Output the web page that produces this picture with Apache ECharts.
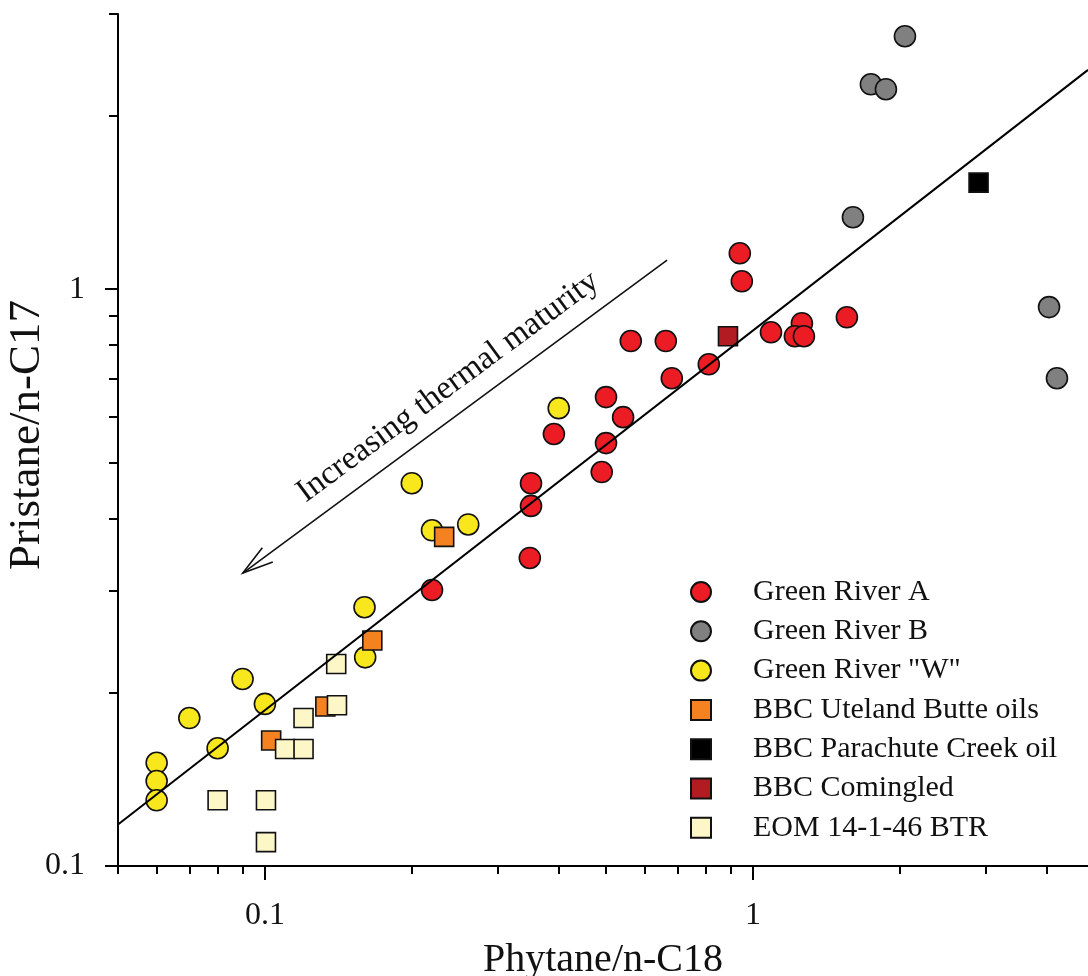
<!DOCTYPE html>
<html><head><meta charset="utf-8">
<script src="https://cdn.jsdelivr.net/npm/echarts@6/dist/echarts.min.js"></script>
<style>html,body{margin:0;padding:0;background:#fff}#c{width:1088px;height:976px}</style>
</head><body><div id="c"></div>
<script>
// ---- data (Phytane/n-C18, Pristane/n-C17) ----
const greenRiverA = [[0.94,1.154],[0.949,1.032],[0.562,0.813],[0.663,0.813],[0.682,0.701],[0.812,0.741],[1.089,0.842],[1.26,0.873],[1.219,0.829],[1.272,0.829],[1.558,0.894],[0.50,0.650],[0.542,0.600],[0.50,0.541],[0.391,0.561],[0.49,0.482],[0.351,0.461],[0.351,0.421],[0.349,0.342],[0.22,0.301]];
const greenRiverB = [[2.049,2.745],[1.745,2.266],[1.873,2.222],[1.603,1.333],[4.044,0.931],[4.198,0.701]];
const greenRiverW = [[0.40,0.622],[0.20,0.461],[0.22,0.382],[0.261,0.391],[0.16,0.281],[0.1605,0.23],[0.090,0.211],[0.070,0.1805],[0.10,0.191],[0.080,0.160],[0.060,0.151],[0.060,0.1404],[0.060,0.130]];
const utelandButte = [[0.233,0.372],[0.166,0.246],[0.133,0.189],[0.103,0.165]];
const parachuteCreek = [[2.90,1.53]];
const comingled = [[0.889,0.829]];
const eomBTR = [[0.140,0.224],[0.1405,0.190],[0.120,0.1805],[0.110,0.1595],[0.120,0.1595],[0.080,0.130],[0.1005,0.130],[0.1005,0.110]];
const fitLine = [[0.05,0.118],[4.86,2.40]];
const arrowFrom = [0.667,1.123];
const arrowTo = [0.0901,0.322];
const arrowText = 'Increasing thermal maturity';
const xMajorTicks = [0.1,1];
const xMinorTicks = [0.05,0.06,0.07,0.08,0.09,0.2,0.3,0.4,0.5,0.6,0.7,0.8,0.9,2,3,4];
const yMajorTicks = [0.1,1];
const yMinorTicks = [0.2,0.3,0.4,0.5,0.6,0.7,0.8,0.9,2,3];
const xName = 'Phytane/n-C18';
const yName = 'Pristane/n-C17';

const FONT = "'Liberation Serif','Times New Roman',serif";
const chart = echarts.init(document.getElementById('c'));
const lineStyle = {color:'#000', width:2};
function sc(name, data, symbol, color, size){
  return {type:'scatter', name, data, symbol, symbolSize:size, xAxisIndex:0, yAxisIndex:0,
    itemStyle:{color, borderColor:'#111', borderWidth:1.6, opacity:1}, z:3};
}
const option = {
  animation:false,
  backgroundColor:'#fff',
  grid:{left:118, right:0, top:14, bottom:110, containLabel:false, outerBoundsMode:'none'},
  xAxis:[
    {type:'log', logBase:10, min:0.05, max:4.86, position:'bottom',
     name:xName, nameLocation:'middle', nameGap:74, nameMoveOverlap:false,
     nameTextStyle:{fontFamily:FONT, fontSize:40, color:'#111'},
     axisLine:{lineStyle}, splitLine:{show:false},
     axisTick:{customValues:xMajorTicks, length:14, lineStyle},
     axisLabel:{customValues:xMajorTicks, margin:34, fontFamily:FONT, fontSize:32, color:'#111'}},
    {type:'log', logBase:10, min:0.05, max:4.86, position:'bottom',
     axisLine:{show:false}, splitLine:{show:false},
     axisTick:{customValues:xMinorTicks, length:8, lineStyle},
     axisLabel:{show:false}}
  ],
  yAxis:[
    {type:'log', logBase:10, min:0.1, max:3, position:'left',
     name:yName, nameLocation:'middle', nameGap:68, nameMoveOverlap:false,
     nameTextStyle:{fontFamily:FONT, fontSize:45, color:'#111', padding:[0,0,0,10]},
     axisLine:{lineStyle}, splitLine:{show:false},
     axisTick:{customValues:yMajorTicks, length:13, lineStyle},
     axisLabel:{customValues:yMajorTicks, margin:33, fontFamily:FONT, fontSize:32, color:'#111'}},
    {type:'log', logBase:10, min:0.1, max:3, position:'left',
     axisLine:{show:false}, splitLine:{show:false},
     axisTick:{customValues:yMinorTicks, length:9, lineStyle},
     axisLabel:{show:false}}
  ],
  legend:{
    orient:'vertical', left:685, top:572, itemWidth:20, itemHeight:20, itemGap:9.3,
    data:['Green River A','Green River B','Green River "W"','BBC Uteland Butte oils','BBC Parachute Creek oil','BBC Comingled','EOM 14-1-46 BTR'],
    textStyle:{fontFamily:FONT, fontSize:30, color:'#111', padding:[0,0,0,37]},
    selectedMode:false
  },
  series:[
    sc('Green River A', greenRiverA, 'circle', '#ec1c24', 21),
    sc('Green River B', greenRiverB, 'circle', '#808080', 21),
    sc('Green River "W"', greenRiverW, 'circle', '#f8e71c', 21),
    sc('BBC Uteland Butte oils', utelandButte, 'rect', '#f58220', 19),
    sc('BBC Parachute Creek oil', parachuteCreek, 'rect', '#000000', 19),
    sc('BBC Comingled', comingled, 'rect', '#b31b23', 19),
    sc('EOM 14-1-46 BTR', eomBTR, 'rect', '#fdf7c8', 19),
    {type:'line', name:'fit', data:fitLine, xAxisIndex:0, yAxisIndex:0, symbol:'none',
     lineStyle:{color:'#000', width:2}, z:5, silent:true}
  ]
};
chart.setOption(option);

// annotation arrow (positioned from data coordinates)
const p0 = chart.convertToPixel({xAxisIndex:0, yAxisIndex:0}, arrowFrom);
const p1 = chart.convertToPixel({xAxisIndex:0, yAxisIndex:0}, arrowTo);
const dx = p0[0]-p1[0], dy = p0[1]-p1[1];
const len = Math.hypot(dx,dy);
const ux = dx/len, uy = dy/len;
const headLen = 32, headAng = 16*Math.PI/180;
function rot(x,y,a){return [x*Math.cos(a)-y*Math.sin(a), x*Math.sin(a)+y*Math.cos(a)];}
const a1 = rot(ux,uy,headAng), a2 = rot(ux,uy,-headAng);
const nx = uy, ny = -ux; // normal pointing up-left
const along = 12, off = 28;
const mid = [(p0[0]+p1[0])/2 + ux*along, (p0[1]+p1[1])/2 + uy*along];
chart.setOption({graphic:[
  {type:'line', shape:{x1:p0[0],y1:p0[1],x2:p1[0],y2:p1[1]}, style:{stroke:'#111', lineWidth:1.6}, z:10},
  {type:'polyline', shape:{points:[[p1[0]+a1[0]*headLen,p1[1]+a1[1]*headLen],[p1[0],p1[1]],[p1[0]+a2[0]*headLen,p1[1]+a2[1]*headLen]]},
   style:{stroke:'#111', lineWidth:1.6, fill:null}, z:10},
  {type:'text', x:mid[0]+nx*off, y:mid[1]+ny*off, rotation:Math.atan2(-dy,dx),
   style:{text:arrowText, align:'center', verticalAlign:'middle', font:'33px '+FONT, fill:'#111'}, z:10}
]});
</script>
</body></html>
